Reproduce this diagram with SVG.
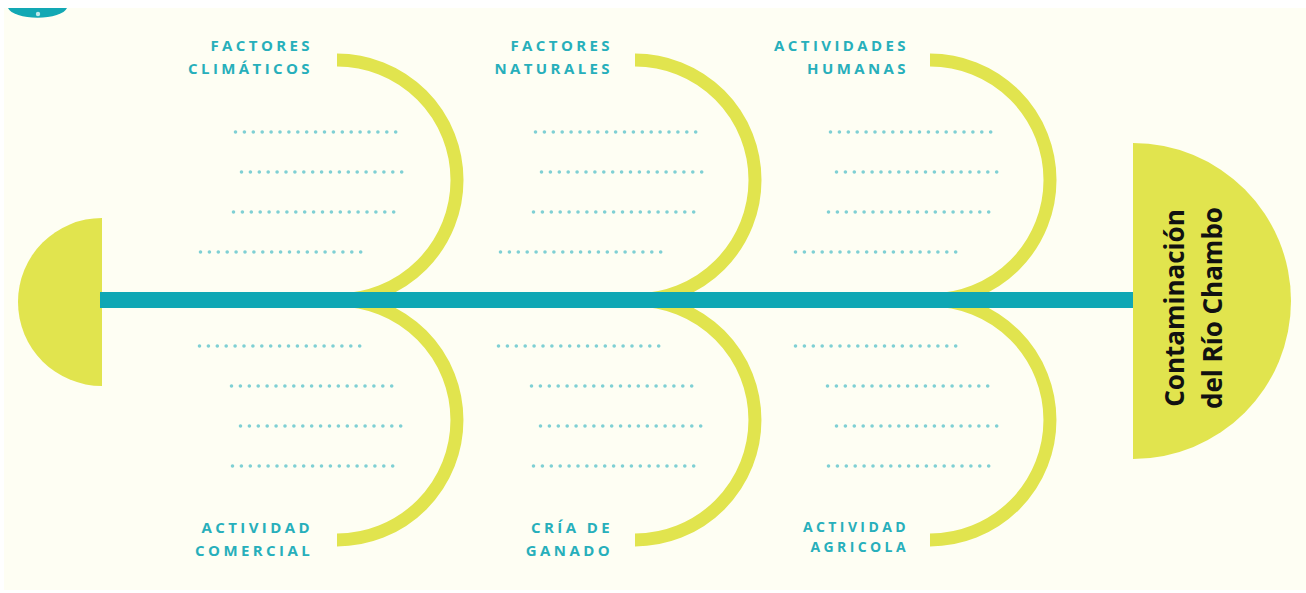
<svg xmlns="http://www.w3.org/2000/svg" width="1306" height="593" viewBox="0 0 1306 593">
<style>
.bg{fill:#fefef3}
.arc{fill:none;stroke:#e1e44e;stroke-width:13}
.spine{stroke:#0fa7b4;stroke-width:16}
.dots{stroke:#7fd0d4;stroke-width:3.6;stroke-linecap:round;stroke-dasharray:0 8.9;fill:none}
.lbl{font-family:"Open Sans",Lato,sans-serif;font-weight:700;font-size:15px;letter-spacing:3.4px;fill:#27afbb;text-anchor:end}
.head{fill:#e1e44e}
.title{font-family:"Open Sans","Noto Sans",sans-serif;font-weight:700;font-size:26px;fill:#111;text-anchor:middle}
</style>
<rect width="1306" height="593" fill="#ffffff"/>
<rect class="bg" x="4" y="8" width="1302" height="582"/>
<g id="corner">
<path d="M8 8 A30 12 0 0 0 67 8 Z" fill="#12a8b4"/>
<circle cx="38" cy="14" r="2.2" fill="#bfe8ea"/>
</g>
<g id="tail"><path class="head" d="M102 218 A84 84 0 0 0 102 386 Z"/></g>
<g id="connectors">
<path class="arc" d="M337 60 A120 120 0 0 1 337 300"/>
<path class="arc" d="M337 300 A120 120 0 0 1 337 540"/>
<path class="arc" d="M635 60 A120 120 0 0 1 635 300"/>
<path class="arc" d="M635 300 A120 120 0 0 1 635 540"/>
<path class="arc" d="M930 60 A120 120 0 0 1 930 300"/>
<path class="arc" d="M930 300 A120 120 0 0 1 930 540"/>
<line class="spine" x1="100" y1="300" x2="1136" y2="300"/>
</g>
<g id="head">
<path class="head" d="M1133 143 A158 158 0 0 1 1133 459 Z"/>
<text class="title" transform="translate(1184 308) rotate(-90)">Contaminación</text>
<text class="title" transform="translate(1222 308) rotate(-90)">del Río Chambo</text>
</g>
<g id="factores-climaticos">
<text class="lbl" x="313" y="51">FACTORES</text>
<text class="lbl" x="313" y="74">CLIMÁTICOS</text>
<path class="dots" d="M235.5 132H398M241.5 172H405M233.5 212H397M200.5 252H364"/>
</g>
<g id="factores-naturales">
<text class="lbl" x="613" y="51">FACTORES</text>
<text class="lbl" x="613" y="74">NATURALES</text>
<path class="dots" d="M535.5 132H699M541.5 172H706M533.5 212H698M500.5 252H665"/>
</g>
<g id="actividades-humanas">
<text class="lbl" x="909" y="51">ACTIVIDADES</text>
<text class="lbl" x="909" y="74">HUMANAS</text>
<path class="dots" d="M830.5 132H995M836.5 172H1001M828.5 212H994M795.5 252H961"/>
</g>
<g id="actividad-comercial">
<path class="dots" d="M199.5 346H362M231.5 386H396M240.5 426H404M232.5 466H398"/>
<text class="lbl" x="313" y="533">ACTIVIDAD</text>
<text class="lbl" x="313" y="556">COMERCIAL</text>
</g>
<g id="cria-de-ganado">
<path class="dots" d="M498.5 346H663M531.5 386H696M540.5 426H704M533.5 466H698"/>
<text class="lbl" x="613" y="533">CRÍA DE</text>
<text class="lbl" x="613" y="556">GANADO</text>
</g>
<g id="actividad-agricola">
<path class="dots" d="M795.5 346H960M827.5 386H993M836.5 426H1001M828.5 466H994"/>
<text class="lbl" x="909" y="532" style="font-size:14px">ACTIVIDAD</text>
<text class="lbl" x="909" y="552" style="font-size:14px">AGRICOLA</text>
</g>
</svg>
